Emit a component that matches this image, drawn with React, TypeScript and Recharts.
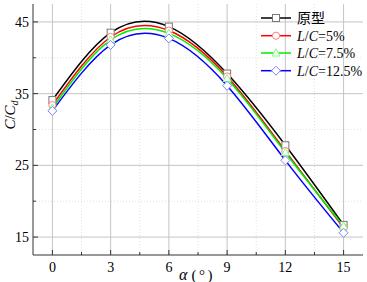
import React from 'react';
import { CartesianGrid, Line, LineChart, XAxis, YAxis } from 'recharts';

const alpha = [0, 3, 6, 9, 12, 15];
const prototype = [34.1, 43.5, 44.35, 37.8, 27.8, 16.7];
const lc5 = [33.4, 42.9, 43.8, 37.4, 27.0, 16.3];
const lc75 = [33.0, 42.5, 43.4, 37.1, 26.8, 16.5];
const lc125 = [32.6, 41.8, 42.7, 36.1, 25.7, 15.6];

const xMajor = [0, 3, 6, 9, 12, 15];
const xMinor = [1.5, 4.5, 7.5, 10.5, 13.5];
const yMajor = [15, 25, 35, 45];
const yMinor = [20, 30, 40];

const data = alpha.map((a, i) => ({
  a,
  p: prototype[i],
  l5: lc5[i],
  l75: lc75[i],
  l125: lc125[i],
}));

const FONT = '"Liberation Serif", "Times New Roman", "Noto Sans CJK SC", serif';
const AXIS = '#333';

type Shape = 'square' | 'circle' | 'triangle' | 'diamond';

function Marker({ cx, cy, shape, stroke }: { cx: number; cy: number; shape: Shape; stroke: string }) {
  const common = { fill: '#fff', stroke, strokeWidth: 1 };
  if (shape === 'square') return <rect x={cx - 3.5} y={cy - 3.5} width={7} height={7} {...common} />;
  if (shape === 'circle') return <circle cx={cx} cy={cy} r={3.6} {...common} />;
  if (shape === 'triangle')
    return <polygon points={`${cx},${cy - 4.2} ${cx + 4},${cy + 3} ${cx - 4},${cy + 3}`} {...common} />;
  return <polygon points={`${cx},${cy - 4.5} ${cx + 4.5},${cy} ${cx},${cy + 4.5} ${cx - 4.5},${cy}`} {...common} />;
}

const series = [
  { key: 'p', color: '#000000', mark: '#777777', shape: 'square' as Shape, label: 'proto' },
  { key: 'l5', color: '#ff0000', mark: '#ff8080', shape: 'circle' as Shape, label: '5%' },
  { key: 'l75', color: '#00ee00', mark: '#80ff80', shape: 'triangle' as Shape, label: '7.5%' },
  { key: 'l125', color: '#0000ff', mark: '#8080ff', shape: 'diamond' as Shape, label: '12.5%' },
];

const XTick = (props: any) => {
  const { x, y, payload } = props;
  const major = xMajor.includes(payload.value);
  return (
    <g>
      <line x1={x} x2={x} y1={y} y2={y - (major ? 5 : 3)} stroke={AXIS} strokeWidth={1} />
      {major && (
        <text x={x} y={y + 17} textAnchor="middle" fontSize={14} fontFamily={FONT} fill="#000">
          {payload.value}
        </text>
      )}
    </g>
  );
};

const YTick = (props: any) => {
  const { x, y, payload } = props;
  const major = yMajor.includes(payload.value);
  return (
    <g>
      <line x1={x} x2={x + (major ? 5 : 3)} y1={y} y2={y} stroke={AXIS} strokeWidth={1} />
      {major && (
        <text x={x - 4} y={y + 5} textAnchor="end" fontSize={14} fontFamily={FONT} fill="#000">
          {payload.value}
        </text>
      )}
    </g>
  );
};

function Legend() {
  const rows = [18, 35.7, 53, 70.7];
  return (
    <svg width={367} height={282} style={{ position: 'absolute', left: 0, top: 0, pointerEvents: 'none' }}>
      {series.map((s, i) => (
        <g key={s.key}>
          <line x1={261} x2={291} y1={rows[i]} y2={rows[i]} stroke={s.color} strokeWidth={1.5} />
          <Marker cx={276} cy={rows[i]} shape={s.shape} stroke={s.mark} />
          <text x={297} y={rows[i] + 5} fontSize={14} fontFamily={FONT} fill="#000">
            {i === 0 ? (
              <tspan fontFamily='"Noto Sans CJK SC", serif'>原型</tspan>
            ) : (
              <>
                <tspan fontStyle="italic">L</tspan>
                <tspan>/</tspan>
                <tspan fontStyle="italic">C</tspan>
                <tspan>={s.label}</tspan>
              </>
            )}
          </text>
        </g>
      ))}
    </svg>
  );
}

export default function App() {
  return (
    <div style={{ position: 'relative', width: 367, height: 282, background: '#fff' }}>
      <style>{'body{margin:0}'}</style>
      <LineChart width={367} height={282} data={data} margin={{ top: 4, right: 4, left: 0, bottom: 0 }}>
        <CartesianGrid
          stroke="#e2e2e2"
          strokeDasharray="1 2"
          verticalValues={xMinor}
          horizontalValues={yMinor}
        />
        <CartesianGrid stroke="#c4c4c4" verticalValues={xMajor} horizontalValues={yMajor} />
        <XAxis
          dataKey="a"
          type="number"
          domain={[-1, 16]}
          ticks={[...xMajor, ...xMinor].sort((a, b) => a - b)}
          interval={0}
          height={27}
          tickSize={0}
          tickMargin={0}
          tickLine={false}
          axisLine={{ stroke: AXIS }}
          tick={XTick}
          label={{
            content: () => (
              <text x={197} y={280} textAnchor="middle" fontSize={15} fontFamily={FONT} fill="#000">
                <tspan fontStyle="italic" fontSize={16}>α</tspan>
                <tspan dx={4} letterSpacing={2.5}>(°)</tspan>
              </text>
            ),
          }}
        />
        <XAxis xAxisId="top" orientation="top" height={0} tick={false} tickLine={false} axisLine={{ stroke: AXIS }} />
        <YAxis
          type="number"
          domain={[12.5, 47.5]}
          ticks={[...yMajor, ...yMinor].sort((a, b) => a - b)}
          interval={0}
          width={33}
          tickSize={0}
          tickMargin={0}
          tickLine={false}
          axisLine={{ stroke: AXIS }}
          tick={YTick}
          label={{
            content: () => (
              <text
                x={15}
                y={115}
                transform="rotate(-90 15 115)"
                textAnchor="middle"
                fontSize={15}
                fontFamily={FONT}
                fill="#000"
              >
                <tspan fontStyle="italic">C</tspan>
                <tspan>/</tspan>
                <tspan fontStyle="italic">C</tspan>
                <tspan fontStyle="italic" fontSize={10} dy={3}>d</tspan>
              </text>
            ),
          }}
        />
        <YAxis yAxisId="right" orientation="right" width={0} tick={false} tickLine={false} axisLine={{ stroke: AXIS }} />
        {series.map((s) => (
          <Line
            key={s.key}
            type="natural"
            dataKey={s.key}
            stroke={s.color}
            strokeWidth={1.5}
            isAnimationActive={false}
            dot={(p: any) => <Marker key={`${s.key}-${p.index}`} cx={p.cx} cy={p.cy} shape={s.shape} stroke={s.mark} />}
            activeDot={false}
          />
        ))}
      </LineChart>
      <Legend />
    </div>
  );
}
